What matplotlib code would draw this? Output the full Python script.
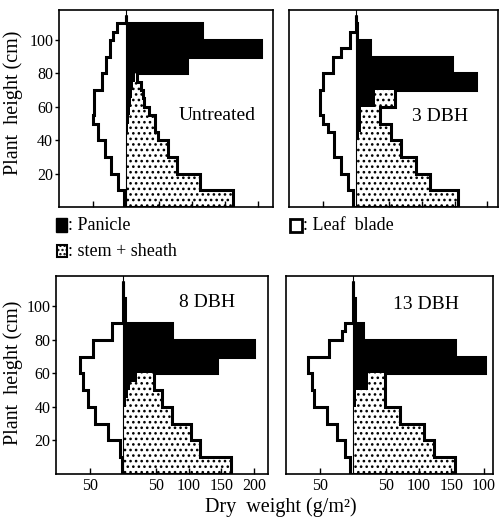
import numpy as np
import matplotlib
matplotlib.use("Agg")
import matplotlib.pyplot as plt
from matplotlib.patches import Rectangle

plt.rcParams['font.family'] = ['Liberation Serif', 'DejaVu Serif']
plt.rcParams['hatch.linewidth'] = 1.1

# layer edges (cm), 5 cm strata
edges = np.arange(0, 120, 5)

# dry weight per stratum (g/m2), bottom stratum first
leaf_untr = [3, 3, 12, 12, 22, 22, 32, 32, 43, 43, 50, 48, 48, 48, 37, 37, 30, 30, 24, 24, 20, 13, 0]
pan_untr = [0, 0, 0, 0, 0, 0, 0, 0, 0, 3, 5, 6, 8, 9, 11, 14, 92, 92, 205, 205, 116, 116, 0]
stem_untr = [163, 163, 112, 112, 77, 77, 64, 64, 49, 41, 39, 29, 20, 17, 12, 2, 0, 0, 0, 0, 0, 0, 0]

leaf_3 = [4, 4, 12, 12, 22, 22, 33, 33, 33, 42, 50, 55, 55, 55, 50, 50, 35, 35, 22, 9, 9, 0, 0]
pan_3 = [0, 0, 0, 0, 0, 0, 0, 0, 5, 8, 8, 8, 29, 29, 183, 183, 146, 146, 21, 21, 2, 2, 0]
stem_3 = [155, 155, 112, 112, 92, 92, 69, 69, 49, 46, 28, 28, 30, 30, 0, 0, 0, 0, 0, 0, 0, 0, 0]

leaf_8 = [2, 2, 5, 5, 23, 23, 42, 42, 54, 54, 61, 61, 65, 65, 45, 45, 17, 17, 0, 0, 0, 0, 0]
pan_8 = [0, 0, 0, 0, 0, 0, 0, 0, 4, 7, 10, 21, 143, 143, 200, 200, 75, 75, 3, 3, 3, 0, 0]
stem_8 = [164, 164, 118, 118, 104, 104, 75, 75, 56, 53, 37, 26, 0, 0, 0, 0, 0, 0, 0, 0, 0, 0, 0]

leaf_13 = [4, 4, 12, 12, 24, 24, 40, 40, 59, 59, 63, 63, 69, 69, 37, 37, 17, 12, 0, 0, 0, 0, 0]
pan_13 = [0, 0, 0, 0, 0, 0, 0, 0, 4, 4, 23, 23, 202, 202, 156, 156, 16, 16, 3, 3, 3, 0, 0]
stem_13 = [156, 156, 123, 123, 108, 108, 72, 72, 45, 45, 26, 26, 0, 0, 0, 0, 0, 0, 0, 0, 0, 0, 0]

xticks = [-50, 50, 100, 150, 200]
xlabels_left = ['50', '50', '100', '150', '200']
xlabels_right = ['50', '50', '100', '150', '100']
yticks = [20, 40, 60, 80, 100]

W, H = 499, 523
fig = plt.figure(figsize=(W / 100, H / 100), dpi=100)


def add_px_axes(left, top, right, bottom):
    return fig.add_axes([left / W, 1 - bottom / H, (right - left) / W, (bottom - top) / H])


def draw_panel(ax, leaf, pan, stem, xlim, title, tpos, xlabels, show_y):
    leaf = np.array(leaf, dtype=float)
    pan = np.array(pan, dtype=float)
    total = pan + np.array(stem, dtype=float)

    # panicle (solid) and stem + sheath (dotted) on the right
    ax.stairs(pan, edges, orientation='horizontal', baseline=0, fill=True,
              facecolor='black', edgecolor='black', linewidth=0)
    ax.stairs(total, edges, orientation='horizontal', baseline=pan, fill=True,
              facecolor='white', edgecolor='black', linewidth=0, hatch='...')
    ax.stairs(total, edges, orientation='horizontal', baseline=0, fill=False,
              color='black', linewidth=2.2)
    # leaf blade on the left
    ax.stairs(-leaf, edges, orientation='horizontal', baseline=0, fill=False,
              color='black', linewidth=2.2)
    ax.axvline(0, color='black', linewidth=0.8)

    ax.set_xlim(*xlim)
    ax.set_ylim(0, 118)
    ax.set_xticks(xticks)
    ax.set_yticks(yticks)
    ax.tick_params(direction='in', length=4, width=1, labelsize=11.5, pad=3)
    if xlabels is None:
        ax.tick_params(labelbottom=False)
    else:
        ax.set_xticklabels(xlabels)
    if show_y:
        ax.tick_params(axis='y', direction='out', length=3, pad=1)
    else:
        ax.tick_params(axis='y', left=False, labelleft=False)
    for s in ax.spines.values():
        s.set_linewidth(1.2)
    ax.text(tpos[0], tpos[1], title, fontsize=14, ha='center', va='center')


ax1 = add_px_axes(58.7, 10, 273, 207)
draw_panel(ax1, leaf_untr, pan_untr, stem_untr, (-102, 223), 'Untreated', (139, 55), None, True)
ax2 = add_px_axes(288.7, 10, 498, 207)
draw_panel(ax2, leaf_3, pan_3, stem_3, (-102, 216), '3 DBH', (128, 54), None, False)
ax3 = add_px_axes(56, 276, 268, 474)
draw_panel(ax3, leaf_8, pan_8, stem_8, (-102, 221), '8 DBH', (128, 102), xlabels_left, True)
ax4 = add_px_axes(286, 276, 493.3, 474)
draw_panel(ax4, leaf_13, pan_13, stem_13, (-102, 214), '13 DBH', (112, 101), xlabels_right, False)

# axis titles
fig.text(13 / W, 1 - 103 / H, 'Plant  height (cm)', rotation=90, fontsize=14.5,
         ha='center', va='center')
fig.text(13 / W, 1 - 373 / H, 'Plant  height (cm)', rotation=90, fontsize=14.5,
         ha='center', va='center')
fig.text(281 / W, 1 - 507 / H, 'Dry  weight (g/m²)', fontsize=14.5, ha='center', va='center')


# legend
def px_rect(x0, y0, x1, y1, **kw):
    fig.patches.append(Rectangle((x0 / W, 1 - y1 / H), (x1 - x0) / W, (y1 - y0) / H,
                                 transform=fig.transFigure, figure=fig, **kw))


px_rect(56, 218, 67, 232, facecolor='black', edgecolor='black', linewidth=1)
fig.text(68 / W, 1 - 226 / H, ': Panicle', fontsize=13, ha='left', va='center')
px_rect(290, 219, 302, 232, facecolor='white', edgecolor='black', linewidth=2)
fig.text(303 / W, 1 - 225 / H, ': Leaf  blade', fontsize=13, ha='left', va='center')
px_rect(57, 245, 67, 257, facecolor='white', edgecolor='black', linewidth=1.5, hatch='....')
fig.text(68 / W, 1 - 252 / H, ': stem + sheath', fontsize=13, ha='left', va='center')

fig.savefig('out.png', dpi=100)
